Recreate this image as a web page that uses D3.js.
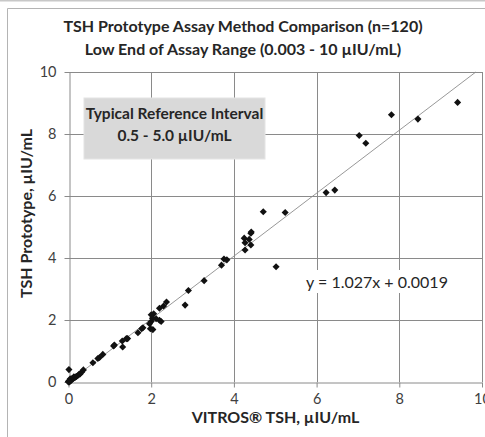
<!DOCTYPE html>
<html>
<head>
<meta charset="utf-8">
<script src="https://cdn.jsdelivr.net/npm/d3@7"></script>
<style>
  body { margin: 0; background: #fff; }
  svg { display: block; font-family: Lato, "Open Sans", sans-serif; }
</style>
</head>
<body>
<div id="chart"></div>
<script>
// values
const vitros = [
  9.41, 8.45, 7.81, 7.03, 7.19, 6.23, 6.44, 5.24, 4.71, 5.02,
  4.42, 4.41, 4.37, 4.25, 4.27, 4.41, 4.27, 3.76, 3.83, 3.70, 3.28,
  2.90, 2.82, 2.37, 2.30, 2.20, 2.06, 2.00, 2.12, 2.20, 2.24, 2.03, 2.00, 1.96, 1.98, 2.04,
  1.80, 1.77, 1.68, 1.43, 1.40, 1.30, 1.31, 1.09, 1.11,
  0.83, 0.75, 0.71, 0.59, 0.36, 0.32, 0.28, 0.25, 0.22, 0.19, 0.17, 0.15, 0.13, 0.12,
  0.10, 0.08, 0.07, 0.05, 0.05, 0.04, 0.03, 0.02, 0.02, 0.01, 0.01, 0.00, 0.00, 0.01
];
const prototype = [
  9.02, 8.48, 8.62, 7.95, 7.70, 6.11, 6.19, 5.47, 5.49, 3.72,
  4.84, 4.80, 4.60, 4.64, 4.49, 4.42, 4.26, 3.97, 3.94, 3.77, 3.27,
  2.95, 2.48, 2.58, 2.45, 2.38, 2.20, 2.17, 2.04, 1.99, 1.95, 2.06, 1.95, 1.88, 1.72, 1.69,
  1.75, 1.72, 1.59, 1.40, 1.40, 1.32, 1.13, 1.16, 1.19,
  0.89, 0.79, 0.76, 0.62, 0.39, 0.32, 0.26, 0.24, 0.20, 0.18, 0.16, 0.14, 0.17, 0.12,
  0.10, 0.10, 0.08, 0.06, 0.03, 0.10, 0.04, 0.02, 0.00, 0.03, 0.01, 0.00, 0.02, 0.40
];
const xTicks = [0, 2, 4, 6, 8, 10];
const yTicks = [0, 2, 4, 6, 8, 10];
// trendline endpoints as drawn in the picture
const trendX = [0, 9.85];
const trendY = [0, 10];

const titleLines = ['TSH Prototype Assay Method Comparison (n=120)', 'Low End of Assay Range (0.003 - 10 \u00b5IU/mL)'];
const boxLines = ['Typical Reference Interval', '0.5 - 5.0 \u00b5IU/mL'];
const equation = 'y = 1.027x + 0.0019';
const xTitle = 'VITROS\u00ae TSH, \u00b5IU/mL';
const yTitle = 'TSH Prototype, \u00b5IU/mL';

const width = 485, height = 437;

const svg = d3.select('#chart').append('svg')
    .attr('width', width)
    .attr('height', height);

// outer frame lines
svg.append('line').attr('x1', 0).attr('x2', width).attr('y1', 0.5).attr('y2', 0.5)
    .attr('stroke', '#c8c8c8').attr('stroke-width', 2);
svg.append('path').attr('d', `M7.5,${height}V8.5H${width}`)
    .attr('fill', 'none').attr('stroke', '#b4b4b4');

const x = d3.scaleLinear().domain([0, 10]).range([68.5, 482]);
const y = d3.scaleLinear().domain([0, 10]).range([382, 72]);

// gridlines
const grid = svg.append('g').attr('stroke', '#8a8a8a').attr('stroke-width', 1);
grid.selectAll('line.v').data(xTicks.filter(d => d > 0)).join('line')
    .classed('v', true)
    .attr('x1', d => Math.round(x(d)) + 0.5).attr('x2', d => Math.round(x(d)) + 0.5)
    .attr('y1', y(0)).attr('y2', y(10));
grid.selectAll('line.h').data(yTicks.filter(d => d > 0)).join('line')
    .classed('h', true)
    .attr('x1', x(0)).attr('x2', x(10))
    .attr('y1', d => Math.round(y(d)) + 0.5).attr('y2', d => Math.round(y(d)) + 0.5);

// axes
const xAxis = svg.append('g')
    .attr('transform', `translate(0,${Math.round(y(0)) + 0.5})`)
    .call(d3.axisBottom(x).tickValues(xTicks).tickSize(5).tickPadding(6).tickSizeOuter(0));
const yAxis = svg.append('g')
    .attr('transform', `translate(${Math.round(x(0)) + 0.5},0)`)
    .call(d3.axisLeft(y).tickValues(yTicks).tickSize(5).tickPadding(8).tickSizeOuter(0));
[xAxis, yAxis].forEach(a => {
    a.select('.domain').attr('stroke', '#8a8a8a');
    a.selectAll('.tick line').attr('stroke', '#8a8a8a');
    a.selectAll('.tick text').attr('fill', '#404040')
        .style('font-size', '14.5px').style('font-family', 'Lato, sans-serif');
});

// reference interval box
svg.append('rect')
    .attr('x', 84).attr('y', 98).attr('width', 181).attr('height', 61)
    .attr('fill', '#d9d9d9').attr('stroke', '#e4e4e4');
svg.append('g').selectAll('text').data(boxLines).join('text')
    .attr('x', 174.5).attr('y', (d, i) => 119 + i * 22)
    .attr('text-anchor', 'middle')
    .attr('font-weight', 'bold').attr('font-size', '15.5px').attr('fill', '#262626')
    .text(d => d);

// trendline
svg.append('line')
    .attr('x1', x(trendX[0])).attr('y1', y(trendY[0]))
    .attr('x2', x(trendX[1])).attr('y2', y(trendY[1]))
    .attr('stroke', '#8c8c8c').attr('stroke-width', 0.9);

// points (diamonds)
const pts = d3.zip(vitros, prototype);
svg.append('g').selectAll('path').data(pts).join('path')
    .attr('d', d3.symbol(d3.symbolSquare, 25))
    .attr('transform', d => `translate(${x(d[0])},${y(d[1])}) rotate(45)`)
    .attr('fill', '#111');

// equation, on a white patch that breaks the gridlines
const eq = svg.append('text')
    .attr('x', 377).attr('y', 288)
    .attr('text-anchor', 'middle')
    .attr('font-size', '16px').attr('fill', '#262626')
    .text(equation);
const bb = eq.node().getBBox();
svg.insert('rect', () => eq.node())
    .attr('x', bb.x - 4).attr('y', bb.y - 2)
    .attr('width', bb.width + 8).attr('height', bb.height + 4)
    .attr('fill', '#fff');

// title
svg.append('g').selectAll('text').data(titleLines).join('text')
    .attr('x', 243).attr('y', (d, i) => 32 + i * 23)
    .attr('text-anchor', 'middle')
    .attr('font-weight', 'bold').attr('font-size', '16px').attr('fill', '#262626')
    .text(d => d);

// axis titles
svg.append('text')
    .attr('x', 275.5).attr('y', 423)
    .attr('text-anchor', 'middle')
    .attr('font-weight', 'bold').attr('font-size', '16px').attr('fill', '#262626')
    .text(xTitle);
svg.append('text')
    .attr('transform', 'translate(32,213.5) rotate(-90)')
    .attr('text-anchor', 'middle')
    .attr('font-weight', 'bold').attr('font-size', '16px').attr('fill', '#262626')
    .text(yTitle);
</script>
</body>
</html>
